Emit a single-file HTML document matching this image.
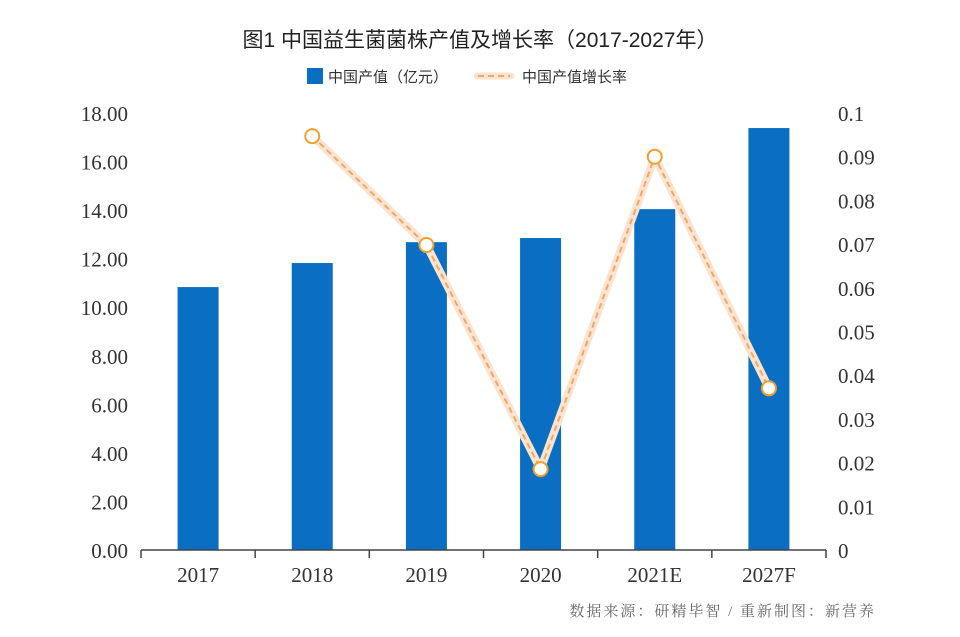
<!DOCTYPE html>
<html><head><meta charset="utf-8"><style>
html,body{margin:0;padding:0;background:#fff;}
svg{display:block;}
text{font-family:"Liberation Serif","Noto Serif CJK SC",serif;fill:#333;}
.cjk{font-family:"Liberation Sans","Noto Sans CJK SC",sans-serif;}
.note{font-family:"Liberation Serif","Noto Serif CJK SC",serif;}
</style></head><body>
<svg id="chart" width="960" height="637" viewBox="0 0 960 637" xmlns="http://www.w3.org/2000/svg">
<text class="cjk" x="480" y="47" text-anchor="middle" font-size="21" style="fill:#222">图1 中国益生菌菌株产值及增长率（2017-2027年）</text>
<g>
<rect x="307" y="68" width="16" height="16" fill="#0a6fc2"/>
<text class="cjk" x="328" y="82" font-size="15">中国产值（亿元）</text>
<line x1="477" y1="76" x2="511" y2="76" stroke="#fbe3d0" stroke-width="7" stroke-linecap="round"/>
<line x1="478" y1="76" x2="510" y2="76" stroke="#f0a868" stroke-width="2" stroke-dasharray="6 4"/>
<text class="cjk" x="522" y="82" font-size="15">中国产值增长率</text>
</g>
<g id="plot"></g>
<text class="note" x="876" y="616" text-anchor="end" font-size="15" letter-spacing="2" style="fill:#666">数据来源：研精毕智 / 重新制图：新营养</text>
</svg>
<script>
const categories = ["2017","2018","2019","2020","2021E","2027F"];
const values = [10.83, 11.82, 12.68, 12.85, 14.04, 17.38];
const growthCategories = ["2018","2019","2020","2021E","2027F"];
const growth = [0.0947, 0.0698, 0.0185, 0.090, 0.037];
const leftTicks = [0,2,4,6,8,10,12,14,16,18];
const leftTickLabels = ["0.00","2.00","4.00","6.00","8.00","10.00","12.00","14.00","16.00","18.00"];
const rightTicks = [0,0.01,0.02,0.03,0.04,0.05,0.06,0.07,0.08,0.09,0.1];
const rightTickLabels = ["0","0.01","0.02","0.03","0.04","0.05","0.06","0.07","0.08","0.09","0.1"];

const NS="http://www.w3.org/2000/svg";
const g=document.getElementById('plot');
const x0=141,x1=826,yB=550,yT=113;
const bw=(x1-x0)/categories.length;
const yL=v=>yB-(v/18)*(yB-yT);
const yR=v=>yB-(v/0.1)*(yB-yT);
const xC=c=>x0+bw*(categories.indexOf(c)+0.5);
function mk(t,a){const e=document.createElementNS(NS,t);for(const k in a)e.setAttribute(k,a[k]);g.appendChild(e);return e;}

leftTicks.forEach((v,i)=>{
  const t=mk('text',{x:128,y:yL(v)+8,'text-anchor':'end','font-size':'21'});
  
  
  t.textContent=leftTickLabels[i];
});
rightTicks.forEach((v,i)=>{
  const t=mk('text',{x:838,y:yR(v)+8,'font-size':'21'});
  
  
  t.textContent=rightTickLabels[i];
});
categories.forEach((c,i)=>{
  const r=mk('rect',{x:xC(c)-20.5,y:yL(values[i]),width:41,height:yB-yL(values[i]),fill:'#0a6fc2'});
  
  
  const t=mk('text',{x:xC(c),y:582,'text-anchor':'middle','font-size':'21'});
  
  
  t.textContent=c;
});
const ax=mk('line',{x1:x0,y1:yB,x2:x1,y2:yB,stroke:'#444','stroke-width':1.5});


for(let i=0;i<=categories.length;i++){
  const tk=mk('line',{x1:x0+bw*i,y1:yB,x2:x0+bw*i,y2:yB+8,stroke:'#444','stroke-width':1.5});
  
  
}
const pts=growthCategories.map((c,i)=>xC(c)+','+yR(growth[i])).join(' ');
const halo=mk('polyline',{points:pts,fill:'none',stroke:'#fbe3d0','stroke-width':8,'stroke-linejoin':'round'});


const ln=mk('polyline',{points:pts,fill:'none',stroke:'#f0a868','stroke-width':2,'stroke-dasharray':'6 4'});


growthCategories.forEach((c,i)=>{
  const p=mk('circle',{cx:xC(c),cy:yR(growth[i]),r:7,fill:'#fff',stroke:'#f0a030','stroke-width':2});
  
  
});
</script>
</body></html>
